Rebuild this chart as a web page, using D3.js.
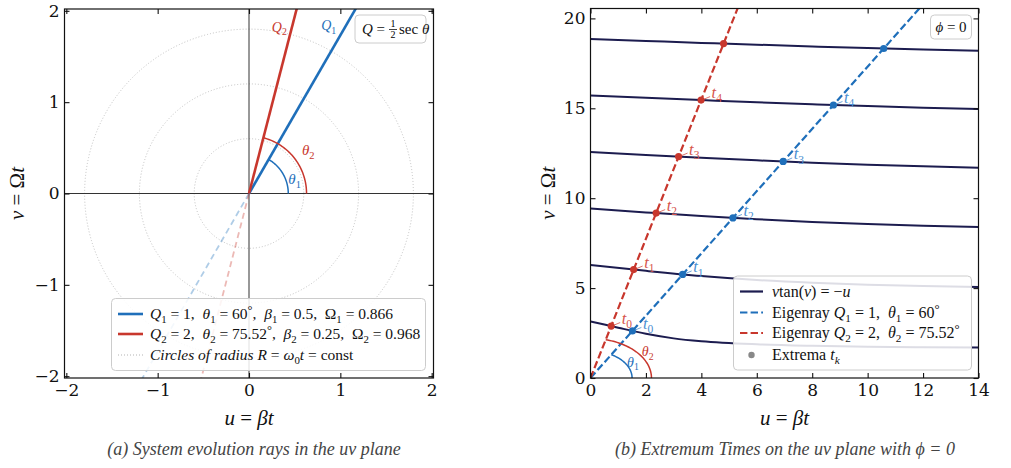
<!DOCTYPE html>
<html><head><meta charset="utf-8">
<script src="https://cdn.jsdelivr.net/npm/d3@7"></script>
<style>
body{margin:0;background:#fff}
svg{display:block}
text{white-space:pre}
</style>
</head><body>
<svg id="chart" width="1011" height="468"></svg>
<script>
const blue = '#1f6fba', red = '#c8372d', navy = '#1c1c4f';
const lightBlue = '#4b8fd2', lightRed = '#d6544b';
const serif = '"Liberation Serif", "DejaVu Serif", serif';
const tickFont = '"DejaVu Serif", serif';

// panel (a): rays in the uv plane
const rayQ = [1, 2];
const rayTheta = [60, 75.52];
const rayBeta = [0.5, 0.25];
const rayOmega = [0.866, 0.968];
const circleR = [0.6, 1.2, 1.8];
const ticksA = [-2, -1, 0, 1, 2];

// panel (b): branches of v tan(v) = -u
const ticksBx = [0, 2, 4, 6, 8, 10, 12, 14];
const ticksBy = [0, 5, 10, 15, 20];
const branch1U = [0, 0.5, 1, 2, 3, 4, 6, 8, 10, 12, 14];
const branch1V = [3.142, 2.975, 2.798, 2.459, 2.204, 2.043, 1.874, 1.791, 1.743, 1.713, 1.691];
const branchU = [0, 2, 4, 6, 8, 10, 12, 14];
const branch2V = [6.283, 5.959, 5.668, 5.449, 5.298, 5.191, 5.115, 5.059];
const branch3V = [9.425, 9.211, 9.007, 8.828, 8.680, 8.562, 8.468, 8.394];
const branch4V = [12.566, 12.406, 12.251, 12.106, 11.977, 11.866, 11.771, 11.691];
const branch5V = [15.708, 15.580, 15.455, 15.335, 15.225, 15.124, 15.034, 14.956];
const branch6V = [18.850, 18.744, 18.638, 18.537, 18.440, 18.351, 18.269, 18.194];
// extrema t_k on each eigenray
const ext1U = [1.511, 3.325, 5.139, 6.953, 8.767, 10.580];
const ext1V = [2.618, 5.760, 8.901, 12.043, 15.184, 18.326];
const ext2U = [0.746, 1.557, 2.368, 3.179, 3.990, 4.802];
const ext2V = [2.889, 6.031, 9.172, 12.314, 15.455, 18.597];
const labelCount = 5; // t_0 .. t_4

const svg = d3.select('#chart');

// little helper for math-like text built from tspans
function math(sel, x, y, segs, size, color) {
  const t = sel.append('text').attr('x', x).attr('y', y)
    .attr('font-family', serif).attr('font-size', size)
    .attr('fill', color || '#111');
  let shift = 0;
  segs.forEach(([s, k]) => {
    const sp = t.append('tspan').text(s);
    let target = 0;
    if (k.includes('i')) sp.attr('font-style', 'italic');
    if (k.includes('_')) { target = size * 0.25; sp.attr('font-size', size * 0.7); }
    if (k.includes('^')) { target = -size * 0.3; sp.attr('font-size', size * 0.8); }
    if (target !== shift) sp.attr('dy', target - shift);
    shift = target;
  });
  return t;
}

function frame(g, x, y) {
  const [x0, x1] = x.range(), [y0, y1] = y.range();
  g.append('rect').attr('x', x0).attr('y', y1)
    .attr('width', x1 - x0).attr('height', y0 - y1)
    .attr('fill', 'none').attr('stroke', '#111').attr('stroke-width', 1.2);
}

function axes(g, x, y, tx, ty) {
  const [x0, x1] = x.range(), [y0, y1] = y.range();
  const fmt = d3.format('d');
  const style = a => {
    a.select('.domain').remove();
    a.selectAll('line').attr('stroke', '#111').attr('stroke-width', 1.1);
    a.selectAll('text').attr('font-family', tickFont).attr('font-size', 17).attr('fill', '#111');
  };
  g.append('g').attr('transform', `translate(0,${y0})`)
    .call(d3.axisBottom(x).tickValues(tx).tickFormat(fmt).tickSize(-5).tickPadding(6)).call(style);
  g.append('g').attr('transform', `translate(0,${y1})`)
    .call(d3.axisTop(x).tickValues(tx).tickSize(-5).tickFormat('')).call(style);
  g.append('g').attr('transform', `translate(${x0},0)`)
    .call(d3.axisLeft(y).tickValues(ty).tickFormat(fmt).tickSize(-5).tickPadding(5)).call(style);
  g.append('g').attr('transform', `translate(${x1},0)`)
    .call(d3.axisRight(y).tickValues(ty).tickSize(-5).tickFormat('')).call(style);
}

function clip(id, x, y) {
  const [x0, x1] = x.range(), [y0, y1] = y.range();
  svg.append('clipPath').attr('id', id).append('rect')
    .attr('x', x0).attr('y', y1).attr('width', x1 - x0).attr('height', y0 - y1);
}

const rad = d => d * Math.PI / 180;

// ---------- panel (a) ----------
const xa = d3.scaleLinear().domain([-2.02, 2.02]).range([64.5, 433.5]);
const ya = d3.scaleLinear().domain([-2.02, 2.02]).range([378, 9]);
clip('clipA', xa, ya);
const ga = svg.append('g');
const pa = ga.append('g').attr('clip-path', 'url(#clipA)');
const kA = xa(1) - xa(0);

pa.selectAll('circle.ring').data(circleR).join('circle')
  .attr('cx', xa(0)).attr('cy', ya(0)).attr('r', d => d * kA)
  .attr('fill', 'none').attr('stroke', '#bbb').attr('stroke-width', 0.9)
  .attr('stroke-dasharray', '1,2');

pa.append('line').attr('x1', xa(-3)).attr('x2', xa(3)).attr('y1', ya(0)).attr('y2', ya(0))
  .attr('stroke', '#333').attr('stroke-width', 1);
pa.append('line').attr('x1', xa(0)).attr('x2', xa(0)).attr('y1', ya(-3)).attr('y2', ya(3))
  .attr('stroke', '#333').attr('stroke-width', 1);

const rayColor = [blue, red];
rayTheta.forEach((th, i) => {
  const c = Math.cos(rad(th)), s = Math.sin(rad(th));
  pa.append('line').attr('x1', xa(0)).attr('y1', ya(0))
    .attr('x2', xa(-3 * c)).attr('y2', ya(-3 * s))
    .attr('stroke', rayColor[i]).attr('stroke-width', 1.8).attr('opacity', 0.35)
    .attr('stroke-dasharray', '6,4');
});
rayTheta.forEach((th, i) => {
  const c = Math.cos(rad(th)), s = Math.sin(rad(th));
  pa.append('line').attr('x1', xa(0)).attr('y1', ya(0))
    .attr('x2', xa(3 * c)).attr('y2', ya(3 * s))
    .attr('stroke', rayColor[i]).attr('stroke-width', 2.6);
});

// angle arcs
const arcRA = [0.43, 0.63];
rayTheta.forEach((th, i) => {
  const pts = d3.range(0, th + 0.01, th / 40).map(a => [arcRA[i] * Math.cos(rad(a)), arcRA[i] * Math.sin(rad(a))]);
  pa.append('path').attr('d', d3.line().x(d => xa(d[0])).y(d => ya(d[1]))(pts))
    .attr('fill', 'none').attr('stroke', rayColor[i]).attr('stroke-width', 1.5);
});
math(ga, xa(0.43), ya(0.1), [['θ', 'i'], ['1', '_']], 15, blue);
math(ga, xa(0.58), ya(0.42), [['θ', 'i'], ['2', '_']], 15, red);
math(ga, xa(0.79), ya(1.79), [['Q', 'i'], ['1', '_']], 14, blue);
math(ga, xa(0.25), ya(1.77), [['Q', 'i'], ['2', '_']], 14, red);

frame(ga, xa, ya);
axes(ga, xa, ya, ticksA, ticksA);

// Q = 1/2 sec θ box
ga.append('rect').attr('x', 355).attr('y', 15).attr('width', 71).attr('height', 28)
  .attr('rx', 4).attr('fill', '#fff').attr('fill-opacity', 0.85).attr('stroke', '#ccc');
math(ga, 362, 34, [['Q', 'i'], [' = ', 'r']], 15);
ga.append('text').attr('x', 393).attr('y', 27).attr('text-anchor', 'middle')
  .attr('font-family', serif).attr('font-size', 10).text('1');
ga.append('line').attr('x1', 389).attr('x2', 397).attr('y1', 29.5).attr('y2', 29.5)
  .attr('stroke', '#111').attr('stroke-width', 0.8);
ga.append('text').attr('x', 393).attr('y', 38).attr('text-anchor', 'middle')
  .attr('font-family', serif).attr('font-size', 10).text('2');
math(ga, 399, 34, [['sec ', 'r'], ['θ', 'i']], 15);

// legend (a)
ga.append('rect').attr('x', 111.5).attr('y', 298.5).attr('width', 314).attr('height', 72)
  .attr('rx', 4).attr('fill', '#fff').attr('fill-opacity', 0.85).attr('stroke', '#ccc');
const legA = [
  [['Q', 'i'], ['1', '_'], [' = 1,  ', 'r'], ['θ', 'i'], ['1', '_'], [' = 60', 'r'], ['°', '^'], [',  ', 'r'],
   ['β', 'i'], ['1', '_'], [' = 0.5,  ', 'r'], ['Ω', 'r'], ['1', '_'], [' = 0.866', 'r']],
  [['Q', 'i'], ['2', '_'], [' = 2,  ', 'r'], ['θ', 'i'], ['2', '_'], [' = 75.52', 'r'], ['°', '^'], [',  ', 'r'],
   ['β', 'i'], ['2', '_'], [' = 0.25,  ', 'r'], ['Ω', 'r'], ['2', '_'], [' = 0.968', 'r']],
  [['Circles of radius ', 'i'], ['R', 'i'], [' = ', 'r'], ['ω', 'i'], ['0', '_'], ['t', 'i'], [' = const', 'r']]
];
const legAY = [314, 334, 355];
legA.forEach((segs, i) => {
  if (i < 2) {
    ga.append('line').attr('x1', 118).attr('x2', 143).attr('y1', legAY[i]).attr('y2', legAY[i])
      .attr('stroke', rayColor[i]).attr('stroke-width', 2.6);
  } else {
    ga.append('line').attr('x1', 118).attr('x2', 143).attr('y1', legAY[i]).attr('y2', legAY[i])
      .attr('stroke', '#aaa').attr('stroke-width', 0.9).attr('stroke-dasharray', '1,2');
  }
  math(ga, 150, legAY[i] + 5, segs, 15.5);
});

math(ga, xa(0), 425, [['u', 'i'], [' = ', 'r'], ['βt', 'i']], 21).attr('text-anchor', 'middle');
math(ga.append('g').attr('transform', `translate(24,${ya(0)}) rotate(-90)`), 0, 0,
  [['v', 'i'], [' = ', 'r'], ['Ω', 'r'], ['t', 'i']], 21).attr('text-anchor', 'middle');
math(ga, 254, 455, [['(a) System evolution rays in the ', 'i'], ['uv', 'i'], [' plane', 'i']], 18, '#444')
  .attr('text-anchor', 'middle');

// ---------- panel (b) ----------
const xb = d3.scaleLinear().domain([0, 14]).range([590.5, 978.5]);
const yb = d3.scaleLinear().domain([0, 20.55]).range([378, 8.5]);
clip('clipB', xb, yb);
const gb = svg.append('g');
const pb = gb.append('g').attr('clip-path', 'url(#clipB)');

const branches = [
  d3.zip(branch1U, branch1V),
  d3.zip(branchU, branch2V),
  d3.zip(branchU, branch3V),
  d3.zip(branchU, branch4V),
  d3.zip(branchU, branch5V),
  d3.zip(branchU, branch6V)
];
const curve = d3.line().x(d => xb(d[0])).y(d => yb(d[1])).curve(d3.curveMonotoneX);
pb.selectAll('path.branch').data(branches).join('path')
  .attr('d', curve).attr('fill', 'none').attr('stroke', navy).attr('stroke-width', 2);

rayTheta.forEach((th, i) => {
  const c = Math.cos(rad(th)), s = Math.sin(rad(th));
  pb.append('line').attr('x1', xb(0)).attr('y1', yb(0))
    .attr('x2', xb(30 * c)).attr('y2', yb(30 * s))
    .attr('stroke', rayColor[i]).attr('stroke-width', 2.2).attr('stroke-dasharray', '7.4,3.2');
});

// angle arcs (circles in data units)
const arcRB = [1.5, 2.2];
rayTheta.forEach((th, i) => {
  const pts = d3.range(0, th + 0.01, th / 40).map(a => [arcRB[i] * Math.cos(rad(a)), arcRB[i] * Math.sin(rad(a))]);
  pb.append('path').attr('d', d3.line().x(d => xb(d[0])).y(d => yb(d[1]))(pts))
    .attr('fill', 'none').attr('stroke', rayColor[i]).attr('stroke-width', 1.5);
});
math(gb, xb(1.32), yb(0.62), [['θ', 'i'], ['1', '_']], 14, blue);
math(gb, xb(1.85), yb(1.2), [['θ', 'i'], ['2', '_']], 14, red);

const extSets = [
  { u: ext1U, v: ext1V, c: blue, lc: lightBlue },
  { u: ext2U, v: ext2V, c: red, lc: lightRed }
];
extSets.forEach(s => {
  const pts = d3.zip(s.u, s.v);
  pb.selectAll(null).data(pts).join('circle')
    .attr('cx', d => xb(d[0])).attr('cy', d => yb(d[1])).attr('r', 3.6).attr('fill', s.c);
  pts.slice(0, labelCount).forEach((d, k) => {
    const px = xb(d[0]), py = yb(d[1]);
    pb.append('line').attr('x1', px + 3).attr('y1', py - 1).attr('x2', px + 9).attr('y2', py - 3.5)
      .attr('stroke', s.lc).attr('stroke-width', 1).attr('opacity', 0.8);
    math(pb, px + 10.5, py - 2, [['t', 'i'], [String(k), '_']], 16.5, s.lc);
  });
});

frame(gb, xb, yb);
axes(gb, xb, yb, ticksBx, ticksBy);

// phi = 0 box
gb.append('rect').attr('x', 930.5).attr('y', 15).attr('width', 41).attr('height', 24)
  .attr('rx', 4).attr('fill', '#fff').attr('fill-opacity', 0.85).attr('stroke', '#ccc');
math(gb, 951, 32, [['ϕ', 'i'], [' = 0', 'r']], 15).attr('text-anchor', 'middle');

// legend (b)
gb.append('rect').attr('x', 733.5).attr('y', 276).attr('width', 238).attr('height', 94)
  .attr('rx', 4).attr('fill', '#fff').attr('fill-opacity', 0.85).attr('stroke', '#ccc');
const legB = [
  [['v', 'i'], ['tan(', 'r'], ['v', 'i'], [') = −', 'r'], ['u', 'i']],
  [['Eigenray ', 'r'], ['Q', 'i'], ['1', '_'], [' = 1,  ', 'r'], ['θ', 'i'], ['1', '_'], [' = 60', 'r'], ['°', '^']],
  [['Eigenray ', 'r'], ['Q', 'i'], ['2', '_'], [' = 2,  ', 'r'], ['θ', 'i'], ['2', '_'], [' = 75.52', 'r'], ['°', '^']],
  [['Extrema ', 'r'], ['t', 'i'], ['k', 'i_']]
];
const legBY = [291.5, 312.5, 333, 355];
const legBStyle = [
  { c: navy, dash: null }, { c: blue, dash: '7.4,3.2' }, { c: red, dash: '7.4,3.2' }
];
legB.forEach((segs, i) => {
  if (i < 3) {
    gb.append('line').attr('x1', 740).attr('x2', 763).attr('y1', legBY[i]).attr('y2', legBY[i])
      .attr('stroke', legBStyle[i].c).attr('stroke-width', 2.2)
      .attr('stroke-dasharray', legBStyle[i].dash);
  } else {
    gb.append('circle').attr('cx', 751.5).attr('cy', legBY[i]).attr('r', 3.2).attr('fill', '#888');
  }
  math(gb, 772, legBY[i] + 5, segs, 16);
});

math(gb, (xb(0) + xb(14)) / 2, 425, [['u', 'i'], [' = ', 'r'], ['βt', 'i']], 21).attr('text-anchor', 'middle');
math(gb.append('g').attr('transform', `translate(555,${(yb(0) + yb(20.55)) / 2}) rotate(-90)`), 0, 0,
  [['v', 'i'], [' = ', 'r'], ['Ω', 'r'], ['t', 'i']], 21).attr('text-anchor', 'middle');
math(gb, 785, 455, [['(b) Extremum Times on the ', 'i'], ['uv', 'i'], [' plane with ', 'i'], ['ϕ', 'i'], [' = 0', 'i']], 18, '#444')
  .attr('text-anchor', 'middle');
</script>
</body></html>
